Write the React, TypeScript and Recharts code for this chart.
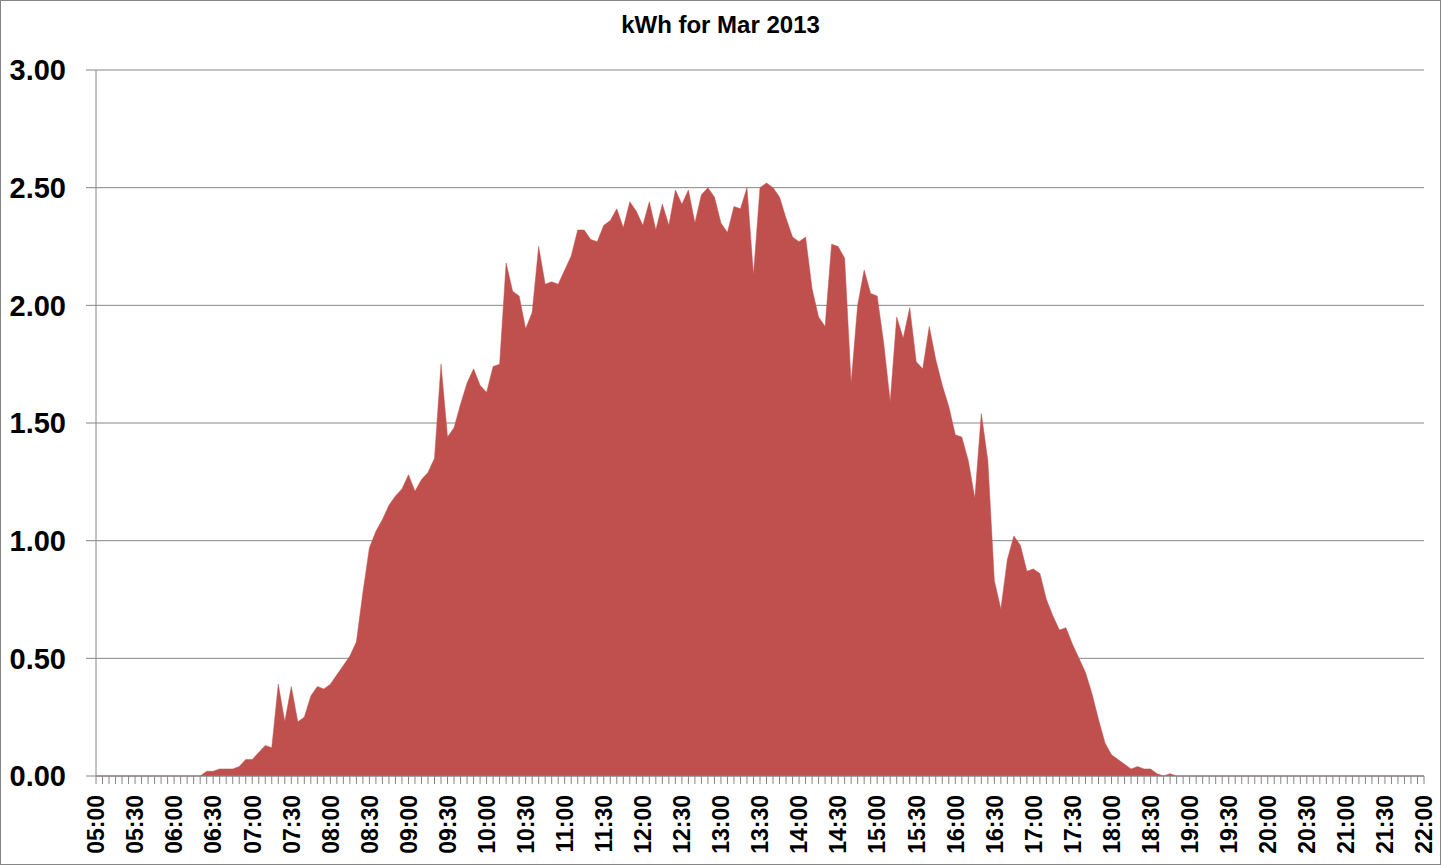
import React from 'react';
import { AreaChart, Area, XAxis, YAxis, CartesianGrid } from 'recharts';

// 5-minute slots from 05:00 to 22:00
const times: string[] = [];
for (let h = 5; h <= 22; h++) {
  for (let m = 0; m < 60; m += 5) {
    if (h === 22 && m > 0) break;
    times.push(`${String(h).padStart(2, '0')}:${String(m).padStart(2, '0')}`);
  }
}

// kWh per slot, one row per hour
const kwh = [
  0, 0, 0, 0, 0, 0, 0, 0, 0, 0, 0, 0,
  0, 0, 0, 0, 0, 0.02, 0.02, 0.03, 0.03, 0.03, 0.04, 0.07,
  0.07, 0.1, 0.13, 0.12, 0.39, 0.23, 0.38, 0.23, 0.25, 0.34, 0.38, 0.37,
  0.39, 0.43, 0.47, 0.51, 0.57, 0.78, 0.97, 1.04, 1.09, 1.15, 1.19, 1.22,
  1.28, 1.21, 1.26, 1.29, 1.35, 1.75, 1.44, 1.48, 1.58, 1.67, 1.73, 1.66,
  1.63, 1.74, 1.75, 2.18, 2.06, 2.04, 1.9, 1.97, 2.25, 2.09, 2.1, 2.09,
  2.15, 2.21, 2.32, 2.32, 2.28, 2.27, 2.34, 2.36, 2.41, 2.33, 2.44, 2.4,
  2.34, 2.44, 2.32, 2.43, 2.34, 2.49, 2.43, 2.49, 2.35, 2.47, 2.5, 2.46,
  2.35, 2.31, 2.42, 2.41, 2.5, 2.13, 2.5, 2.52, 2.5, 2.46, 2.37, 2.29,
  2.27, 2.29, 2.07, 1.95, 1.91, 2.26, 2.25, 2.2, 1.67, 2.0, 2.15, 2.05,
  2.04, 1.84, 1.59, 1.95, 1.86, 1.99, 1.76, 1.73, 1.91, 1.77, 1.66, 1.57,
  1.45, 1.44, 1.34, 1.18, 1.54, 1.34, 0.83, 0.71, 0.92, 1.02, 0.98, 0.87,
  0.88, 0.86, 0.75, 0.68, 0.62, 0.63, 0.56, 0.5, 0.44, 0.35, 0.24, 0.14,
  0.09, 0.07, 0.05, 0.03, 0.04, 0.03, 0.03, 0.01, 0, 0.01, 0, 0,
  0, 0, 0, 0, 0, 0, 0, 0, 0, 0, 0, 0,
  0, 0, 0, 0, 0, 0, 0, 0, 0, 0, 0, 0,
  0, 0, 0, 0, 0, 0, 0, 0, 0, 0, 0, 0,
  0,
];

const yTicks = [0, 0.5, 1, 1.5, 2, 2.5, 3];

const chartData = times.map((t, i) => ({ t, kwh: kwh[i] }));

const FONT = '"Liberation Sans", Arial, sans-serif';
const GREY = '#868686';

// label only on the hour and half hour, tick line on every slot
const TimeTick = (props: any) => {
  const { x, y, payload } = props;
  const v: string = payload.value;
  if (!(v.endsWith(':00') || v.endsWith(':30'))) return null;
  return (
    <g transform={`translate(${x},${y})`}>
      <text
        transform="rotate(-90)"
        textAnchor="end"
        dy="0.36em"
        fill="#000"
        fontSize={23}
        fontWeight={700}
        fontFamily={FONT}
      >
        {v}
      </text>
    </g>
  );
};

const App: React.FC = () => (
  <div style={{ position: 'absolute', left: 0, top: 0, width: 1441, height: 865, background: '#fff' }}>
    <div
      style={{
        position: 'absolute',
        left: 0,
        top: 13,
        width: 1441,
        textAlign: 'center',
        fontFamily: FONT,
        fontWeight: 700,
        fontSize: 24,
        lineHeight: '24px',
        color: '#000',
      }}
    >
      kWh for Mar 2013
    </div>
    <AreaChart
      width={1441}
      height={865}
      data={chartData}
      margin={{ top: 70, right: 17, bottom: 0, left: 0 }}
    >
      <CartesianGrid vertical={false} stroke={GREY} strokeWidth={1} />
      <XAxis
        dataKey="t"
        interval={0}
        height={89}
        tickSize={8}
        tickMargin={11}
        tick={<TimeTick />}
        axisLine={{ stroke: GREY }}
        tickLine={{ stroke: GREY }}
      />
      <YAxis
        domain={[0, 3]}
        ticks={yTicks}
        width={96}
        tickSize={10}
        tickMargin={20}
        tickFormatter={(v: number) => v.toFixed(2)}
        tick={{ fill: '#000', fontSize: 29, fontWeight: 700, fontFamily: FONT }}
        axisLine={{ stroke: GREY }}
        tickLine={{ stroke: GREY }}
      />
      <Area
        type="linear"
        dataKey="kwh"
        stroke="#C0504D"
        strokeWidth={0.5}
        fill="#C0504D"
        fillOpacity={1}
        isAnimationActive={false}
      />
    </AreaChart>
    <div
      style={{
        position: 'absolute',
        left: 0,
        top: 0,
        width: 1441,
        height: 865,
        boxSizing: 'border-box',
        border: `1px solid ${GREY}`,
        pointerEvents: 'none',
      }}
    />
  </div>
);

export default App;
